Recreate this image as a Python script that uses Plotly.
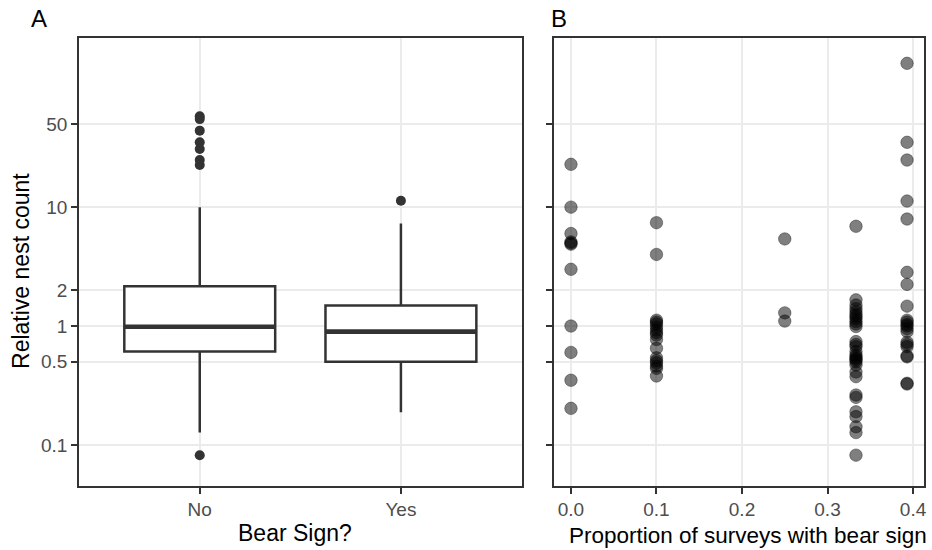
import plotly.graph_objects as go

# ---------------- data ----------------
# Panel A: box plot summary (Relative nest count by bear sign)
box_categories = ["No", "Yes"]
box_q1 = [0.61, 0.50]
box_median = [0.985, 0.897]
box_q3 = [2.16, 1.49]
box_lowerfence = [0.127, 0.188]
box_upperfence = [10.0, 7.28]
outliers_no = [58.0, 55.0, 44.0, 35.1, 30.8, 24.9, 22.6, 0.082]
outliers_yes = [11.3]

# Panel B: scatter (proportion of surveys with bear sign vs relative nest count)
prop_00 = [22.9, 10.0, 6.0, 5.1, 4.98, 4.88, 3.0, 1.0, 0.60, 0.35, 0.203]
prop_01 = [7.4, 4.0, 1.12, 1.08, 1.04, 0.98, 0.925, 0.88, 0.84, 0.77, 0.65,
           0.54, 0.51, 0.49, 0.46, 0.44, 0.38]
prop_025 = [5.4, 1.29, 1.10]
prop_033 = [6.9, 1.66, 1.50, 1.40, 1.32, 1.25, 1.20, 1.15, 1.09, 1.04, 0.99,
            0.74, 0.70, 0.67, 0.61, 0.57, 0.55, 0.53, 0.52, 0.50, 0.47, 0.41,
            0.375, 0.263, 0.251, 0.19, 0.173, 0.142, 0.127, 0.082]
prop_039 = [162.0, 35.1, 24.9, 11.25, 7.94, 2.83, 2.24, 1.47, 1.12, 1.08, 1.03,
            1.0, 0.95, 0.9, 0.73, 0.70, 0.67, 0.56, 0.55, 0.33, 0.325]
prop_values = [0.0, 0.1, 0.25, 0.3333, 0.393]
prop_groups = [prop_00, prop_01, prop_025, prop_033, prop_039]

y_tickvals = [0.1, 0.5, 1, 2, 10, 50]
y_ticktext = ["0.1", "0.5", "1", "2", "10", "50"]
x2_tickvals = [0.0, 0.1, 0.2, 0.3, 0.4]
x2_ticktext = ["0.0", "0.1", "0.2", "0.3", "0.4"]

# ---------------- figure ----------------
W, H = 932, 550
DARK = "#333333"
GRID = "#ebebeb"
FONT = "Liberation Sans, Arial, Helvetica, sans-serif"
BOX_W = 0.75

fig = go.Figure()

pos = list(range(len(box_categories)))
fig.add_trace(go.Box(
    x=pos, q1=box_q1, median=box_median, q3=box_q3,
    lowerfence=box_lowerfence, upperfence=box_upperfence,
    boxpoints=False, fillcolor="white",
    line=dict(color=DARK, width=2.5), whiskerwidth=0, width=BOX_W,
    xaxis="x", yaxis="y", showlegend=False, hoverinfo="skip"))

# thicker median lines
mx, my = [], []
for i, m in zip(pos, box_median):
    mx += [i - BOX_W / 2, i + BOX_W / 2, None]
    my += [m, m, None]
fig.add_trace(go.Scatter(x=mx, y=my, mode="lines",
                         line=dict(color=DARK, width=4.6),
                         xaxis="x", yaxis="y", showlegend=False))

# outliers
ox = [0] * len(outliers_no) + [1] * len(outliers_yes)
oy = outliers_no + outliers_yes
fig.add_trace(go.Scatter(x=ox, y=oy, mode="markers",
                         marker=dict(color=DARK, size=10, line=dict(width=0)),
                         xaxis="x", yaxis="y", showlegend=False))

# Panel B scatter
sx, sy = [], []
for p, g in zip(prop_values, prop_groups):
    sx += [p] * len(g)
    sy += g
fig.add_trace(go.Scatter(x=sx, y=sy, mode="markers",
                         marker=dict(color="rgba(0,0,0,0.5)", size=12.5,
                                     line=dict(color="rgba(0,0,0,0.35)", width=1)),
                         xaxis="x2", yaxis="y2", showlegend=False))

# layout geometry
xl0, xl1 = 79.3, 523.3
xr0, xr1 = 556.0, 926.7
yt, yb = 38.3, 485.7
yrange = [-1.343, 2.42]

axis_common = dict(
    showgrid=True, gridcolor=GRID, gridwidth=2,
    ticks="outside", ticklen=6, tickwidth=2, tickcolor=DARK,
    showline=True, mirror=True, linecolor=DARK, linewidth=1.6,
    zeroline=False, tickfont=dict(family=FONT, size=19, color="#4d4d4d"),
)

fig.update_layout(
    width=W, height=H,
    margin=dict(l=0, r=0, t=0, b=0),
    paper_bgcolor="white", plot_bgcolor="white",
    font=dict(family=FONT),
    xaxis=dict(domain=[xl0 / W, xl1 / W], range=[-0.6, 1.6],
               tickvals=pos, ticktext=box_categories, anchor="y", **axis_common),
    yaxis=dict(domain=[1 - yb / H, 1 - yt / H], type="log", range=yrange,
               tickvals=y_tickvals, ticktext=y_ticktext, anchor="x", **axis_common),
    xaxis2=dict(domain=[xr0 / W, xr1 / W], range=[-0.0196, 0.4125],
                tickvals=x2_tickvals, ticktext=x2_ticktext, anchor="y2", **axis_common),
    yaxis2=dict(domain=[1 - yb / H, 1 - yt / H], type="log", range=yrange,
                tickvals=y_tickvals, ticktext=y_ticktext, anchor="x2",
                showticklabels=False, **axis_common),
)

def ann(text, x, y, size, angle=0, xanchor="center"):
    fig.add_annotation(text=text, x=x / W, y=1 - y / H, xref="paper", yref="paper",
                       showarrow=False, textangle=angle, xanchor=xanchor,
                       yanchor="middle",
                       font=dict(family=FONT, size=size, color="black"))

ann("A", 29, 18.5, 24, xanchor="left")
ann("B", 551, 18.5, 24, xanchor="left")
ann("Relative nest count", 21, 271, 23, angle=-90)
ann("Bear Sign?", 296, 533, 23)
ann("Proportion of surveys with bear sign", 750, 535, 22.5)

fig.write_html("out.html",
               config={"displayModeBar": False},
               post_script="document.body.style.margin='0';document.body.style.overflow='hidden';")
